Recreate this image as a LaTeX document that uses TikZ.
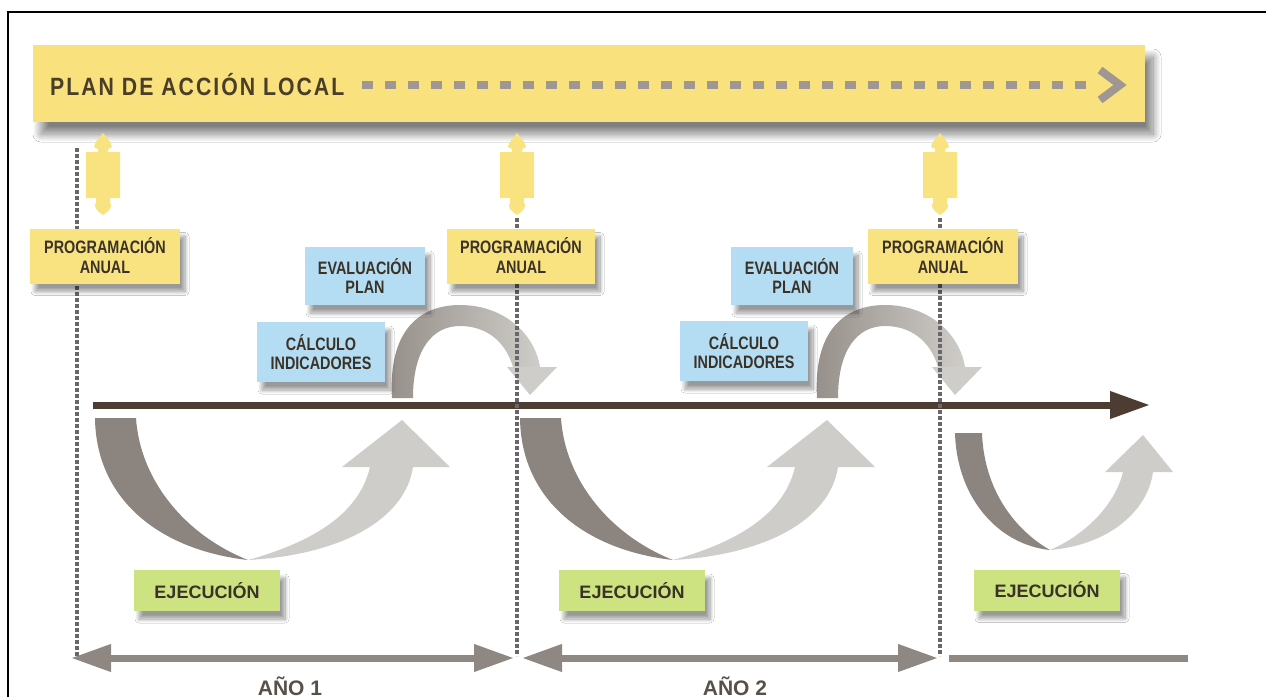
\documentclass[tikz,border=0pt]{standalone}
\usepackage{fontspec}
\setmainfont{Liberation Sans}
\newfontfamily\condf{Liberation Sans}[FakeStretch=0.8]
\newfontfamily\banf{Liberation Sans}[FakeStretch=0.85,LetterSpace=8]
\usetikzlibrary{arrows.meta,shadows.blur}
\definecolor{bannerY}{RGB}{249,226,125}
\definecolor{progY}{RGB}{249,227,128}
\definecolor{blueB}{RGB}{180,220,242}
\definecolor{greenB}{RGB}{205,226,128}
\definecolor{txt}{RGB}{58,50,40}
\definecolor{bantxt}{RGB}{75,62,40}
\definecolor{brownA}{RGB}{76,60,50}
\definecolor{ribD}{RGB}{140,132,127}
\definecolor{ribL}{RGB}{207,205,201}
\definecolor{arcD}{RGB}{150,143,137}
\definecolor{dashC}{RGB}{160,150,148}
\definecolor{dotC}{RGB}{105,103,108}
\definecolor{botA}{RGB}{143,136,130}
\begin{document}
\begin{tikzpicture}[x=1pt,y=-1pt,
  shad/.style={blur shadow={shadow xshift=5pt,shadow yshift=-8pt,shadow blur radius=4pt,shadow blur steps=15,shadow opacity=40,shadow blur extra rounding=0pt}},
  progbox/.style={shad,fill=progY,minimum width=150pt,minimum height=55pt,inner sep=0pt,align=center,text=txt,font=\condf\bfseries\fontsize{18}{20}\selectfont},
  bluebox/.style={shad,fill=blueB,minimum height=58pt,inner sep=0pt,align=center,text=txt,font=\condf\bfseries\fontsize{18}{19}\selectfont},
  ejbox/.style={shad,fill=greenB,minimum width=146pt,minimum height=41pt,inner sep=0pt,text=txt,font=\bfseries\fontsize{18}{20}\selectfont},
  dotline/.style={dotC,line width=3.5pt,dash pattern=on 4pt off 2pt},
  botarrow/.style={botA,line width=7pt},
  connpic/.pic={\fill[progY] (0,0) .. controls (3,4) and (9,10) .. (9,14) -- (5,16) -- (5,19) -- (17,19) -- (17,65) -- (7,65) -- (7,70) .. controls (9,72) and (9,76) .. (0,82) .. controls (-9,76) and (-9,72) .. (-7,70) -- (-7,65) -- (-17,65) -- (-17,19) -- (-5,19) -- (-5,16) -- (-9,14) .. controls (-9,10) and (-3,4) .. (0,0) -- cycle;}
]
\useasboundingbox (0,0) rectangle (1266,697);
\fill[white] (0,0) rectangle (1266,697);
% border
\draw[black,line width=2.5pt] (8,697) -- (8,12) -- (1266,12);

% banner
\node[fill=bannerY,minimum width=1112pt,minimum height=77pt,inner sep=0pt,
  blur shadow={shadow xshift=8pt,shadow yshift=-12pt,shadow blur radius=8pt,shadow blur steps=16,shadow opacity=50,shadow blur extra rounding=0pt}] (banner) at (589,83.5) {};
\node[anchor=west,text=bantxt,inner sep=0pt,font=\banf\bfseries\fontsize{25}{28}\selectfont] (bantext) at (50,85) {PLAN DE ACCIÓN LOCAL};
\coordinate (dashS) at (362,85);
\coordinate (dashE) at (1092,85);
\draw[dashC,line width=8pt,dash pattern=on 11pt off 12pt] (dashS) -- (dashE);
\coordinate (chevA) at (1100,70);
\coordinate (chevB) at (1120,85);
\coordinate (chevC) at (1100,100);
\draw[dashC,line width=8pt,miter limit=4] (chevA) -- (chevB) -- (chevC);

% connectors
\pic (c1) at (103,133) {connpic};
\pic (c2) at (517,133) {connpic};
\pic (c3) at (940,133) {connpic};

% lower U ribbons (year 1)
\fill[ribD] (95,418) -- (136,418) .. controls (140,480) and (185,535) .. (248,560) .. controls (160,550) and (96,500) .. (95,418) -- cycle;
\fill[ribL] (248,560) .. controls (340,555) and (405,520) .. (413,467) -- (370,467) .. controls (360,510) and (320,540) .. (248,560) -- cycle;
\fill[ribL] (342,467) -- (402,420) -- (450,467) -- cycle;
% year 2
\begin{scope}[xshift=425pt]
\fill[ribD] (95,418) -- (136,418) .. controls (140,480) and (185,535) .. (248,560) .. controls (160,550) and (96,500) .. (95,418) -- cycle;
\fill[ribL] (248,560) .. controls (340,555) and (405,520) .. (413,467) -- (370,467) .. controls (360,510) and (320,540) .. (248,560) -- cycle;
\fill[ribL] (342,467) -- (402,420) -- (450,467) -- cycle;
\end{scope}
% year 3
\fill[ribD] (955,433) -- (982,433) .. controls (984,490) and (1015,530) .. (1050,550) .. controls (1000,545) and (957,500) .. (955,433) -- cycle;
\fill[ribL] (1050,550) .. controls (1110,545) and (1148,510) .. (1153,472) -- (1123,472) .. controls (1115,505) and (1085,535) .. (1050,550) -- cycle;
\fill[ribL] (1105,472) -- (1143,435) -- (1173,472) -- cycle;

% upper arcs
\shade[left color=arcD,right color=ribL] (392,398) .. controls (388,330) and (420,305) .. (460,305) .. controls (505,305) and (535,335) .. (540,367) -- (513,367) .. controls (505,340) and (485,326) .. (460,326) .. controls (432,326) and (413,350) .. (413,398) -- cycle;
\fill[ribL] (507,367) -- (530,395) -- (557,367) -- cycle;
\begin{scope}[xshift=425pt]
\shade[left color=arcD,right color=ribL] (392,398) .. controls (388,330) and (420,305) .. (460,305) .. controls (505,305) and (535,335) .. (540,367) -- (513,367) .. controls (505,340) and (485,326) .. (460,326) .. controls (432,326) and (413,350) .. (413,398) -- cycle;
\fill[ribL] (507,367) -- (530,395) -- (557,367) -- cycle;
\end{scope}

% main time arrow
\coordinate (tS) at (93,405);
\coordinate (tE) at (1150,405);
\draw[brownA,line width=7pt,-{Triangle[length=40pt,width=26pt]}] (tS) -- (tE);

% dotted lines
\coordinate (d1a) at (77,148);  \coordinate (d1b) at (77,656);
\coordinate (d2a) at (517,218); \coordinate (d2b) at (517,656);
\coordinate (d3a) at (940,218); \coordinate (d3b) at (940,656);
\draw[dotline] (d1a) -- (d1b);
\draw[dotline] (d2a) -- (d2b);
\draw[dotline] (d3a) -- (d3b);

% boxes
\node[progbox] (p1) at (105,256) {PROGRAMACIÓN\\ANUAL};
\node[progbox,minimum width=148pt] (p2) at (521,256) {PROGRAMACIÓN\\ANUAL};
\node[progbox] (p3) at (943,256) {PROGRAMACIÓN\\ANUAL};
\node[bluebox,minimum width=120pt] (e1) at (365,276) {EVALUACIÓN\\PLAN};
\node[bluebox,minimum width=128pt,minimum height=60pt] (k1) at (321,352) {CÁLCULO\\INDICADORES};
\node[bluebox,minimum width=122pt] (e2) at (792,276) {EVALUACIÓN\\PLAN};
\node[bluebox,minimum width=128pt,minimum height=60pt] (k2) at (744,351) {CÁLCULO\\INDICADORES};
\node[ejbox] (j1) at (207,590.5) {EJECUCIÓN};
\node[ejbox] (j2) at (632,590.5) {EJECUCIÓN};
\node[ejbox] (j3) at (1047,590) {EJECUCIÓN};

% bottom arrows
\coordinate (a1L) at (71,658);  \coordinate (a1R) at (514,658);
\coordinate (a2L) at (522,658); \coordinate (a2R) at (938,658);
\coordinate (a3L) at (949,658); \coordinate (a3R) at (1188,658);
\draw[botarrow,{Triangle[length=40pt,width=26pt]}-{Triangle[length=40pt,width=26pt]}] (a1L) -- (a1R);
\draw[botarrow,{Triangle[length=40pt,width=26pt]}-{Triangle[length=40pt,width=26pt]}] (a2L) -- (a2R);
\draw[botarrow] (a3L) -- (a3R);
\node[anchor=base,text=txt!85!white,inner sep=0pt,font=\bfseries\fontsize{21}{24}\selectfont] (y1) at (290,695) {AÑO 1};
\node[anchor=base,text=txt!85!white,inner sep=0pt,font=\bfseries\fontsize{21}{24}\selectfont] (y2) at (735,695) {AÑO 2};
\end{tikzpicture}
\end{document}
